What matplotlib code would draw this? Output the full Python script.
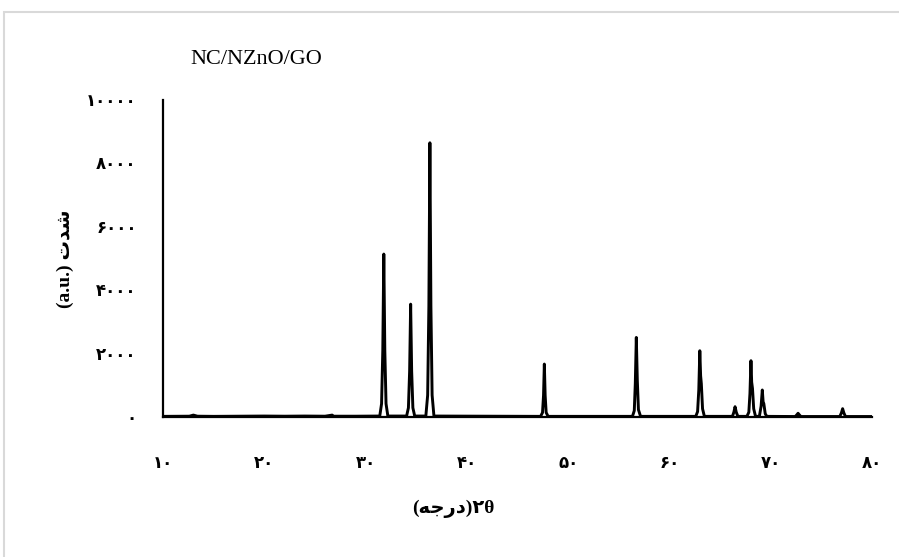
""" XRD pattern NC/NZnO/GO
"""

import matplotlib
matplotlib.use('Agg')
import matplotlib.pyplot as plt
from matplotlib.patches import Rectangle

# 2theta (deg) and intensity (a.u.)
two_theta = [
    10.0, 12.6, 13.0, 13.4, 15.0, 20.0, 22.0, 24.0, 26.0, 26.7, 26.8, 29.0,
    31.40, 31.58, 31.70, 31.80, 31.90, 32.02, 32.20,
    34.05, 34.23, 34.35, 34.45, 34.55, 34.67, 34.85,
    35.95, 36.13, 36.25, 36.35, 36.45, 36.57, 36.75,
    47.28, 47.47, 47.57, 47.65, 47.73, 47.83, 48.02,
    56.35, 56.53, 56.63, 56.73, 56.83, 56.94, 57.15,
    62.60, 62.78, 62.90, 63.00, 63.08, 63.15, 63.27, 63.45,
    66.22, 66.36, 66.48, 66.60, 66.76,
    67.65, 67.84, 67.95, 68.05, 68.12, 68.20, 68.32, 68.50,
    68.88, 69.05, 69.17, 69.25, 69.32, 69.46, 69.62,
    72.42, 72.58, 72.70, 72.82, 72.98,
    76.82, 76.98, 77.10, 77.22, 77.38,
    80.0,
]
intensity = [
    20, 25, 60, 25, 20, 30, 25, 30, 25, 60, 25, 25,
    30, 420, 2100, 5140, 2100, 420, 30,
    30, 290, 1450, 3560, 1450, 290, 30,
    30, 690, 3500, 8650, 3500, 690, 30,
    20, 140, 680, 1670, 680, 140, 20,
    20, 200, 1050, 2510, 1150, 230, 20,
    20, 170, 860, 2090, 1300, 1050, 260, 20,
    20, 150, 325, 150, 20,
    20, 150, 740, 1776, 1100, 900, 260, 20,
    20, 340, 852, 480, 420, 100, 20,
    15, 70, 117, 70, 15,
    15, 130, 262, 130, 15,
    15,
]

x_ticks = [10, 20, 30, 40, 50, 60, 70, 80]
y_ticks = [0, 2000, 4000, 6000, 8000, 10000]

# persian digits
FA = str.maketrans('0123456789', '\u06f0\u06f1\u06f2\u06f3\u06f4\u06f5\u06f6\u06f7\u06f8\u06f9')
FONTS = ['Liberation Serif', 'DejaVu Sans']

# arabic text in visual order (presentation forms), matplotlib has no shaping
SHEDDAT = '\ufe95\ufeaa\ufeb7'            # شدت
DARAJE = '\ufeea\ufe9f\ufead\ufea9'       # درجه

fig = plt.figure(figsize=(8.99, 5.57), dpi=100)
ax = fig.add_axes([163 / 899, 1 - 417 / 557, 709 / 899, 317 / 557])

ax.plot(two_theta, intensity, color='black', lw=2.1, solid_joinstyle='round')

ax.set_xlim(10, 80)
ax.set_ylim(0, 10000)
ax.set_xticks(x_ticks)
ax.set_yticks(y_ticks)
ax.set_xticklabels([str(v).translate(FA) for v in x_ticks])
ax.set_yticklabels([str(v).translate(FA) for v in y_ticks])
for lab in ax.get_xticklabels() + ax.get_yticklabels():
    lab.set_family(FONTS)
    lab.set_fontweight('bold')
    lab.set_fontsize(12)
ax.tick_params(axis='x', length=0, pad=28)
ax.tick_params(axis='y', length=0, pad=19)

for s in ['top', 'right']:
    ax.spines[s].set_visible(False)
for s in ['left', 'bottom']:
    ax.spines[s].set_linewidth(1.6)

ax.set_ylabel('(a.u.) ' + SHEDDAT, family=FONTS, fontweight='bold', fontsize=14)
ax.yaxis.set_label_coords(-0.125, 0.5)
ax.set_xlabel('(' + DARAJE + ')' + '\u06f2\u03b8', family=FONTS,
              fontweight='bold', fontsize=14)
ax.xaxis.set_label_coords(0.41, -0.262)

fig.text(190 / 899, 1 - 60 / 557, 'NC/NZnO/GO', family=FONTS, fontsize=16,
         ha='left', va='center')

# chart area border
fig.patches.append(Rectangle((4 / 899, -0.02), 1.0, 1 - 12 / 557 + 0.02,
                             transform=fig.transFigure, fill=False,
                             edgecolor='#d9d9d9', lw=1.5))

fig.savefig('out.png', dpi=100)
